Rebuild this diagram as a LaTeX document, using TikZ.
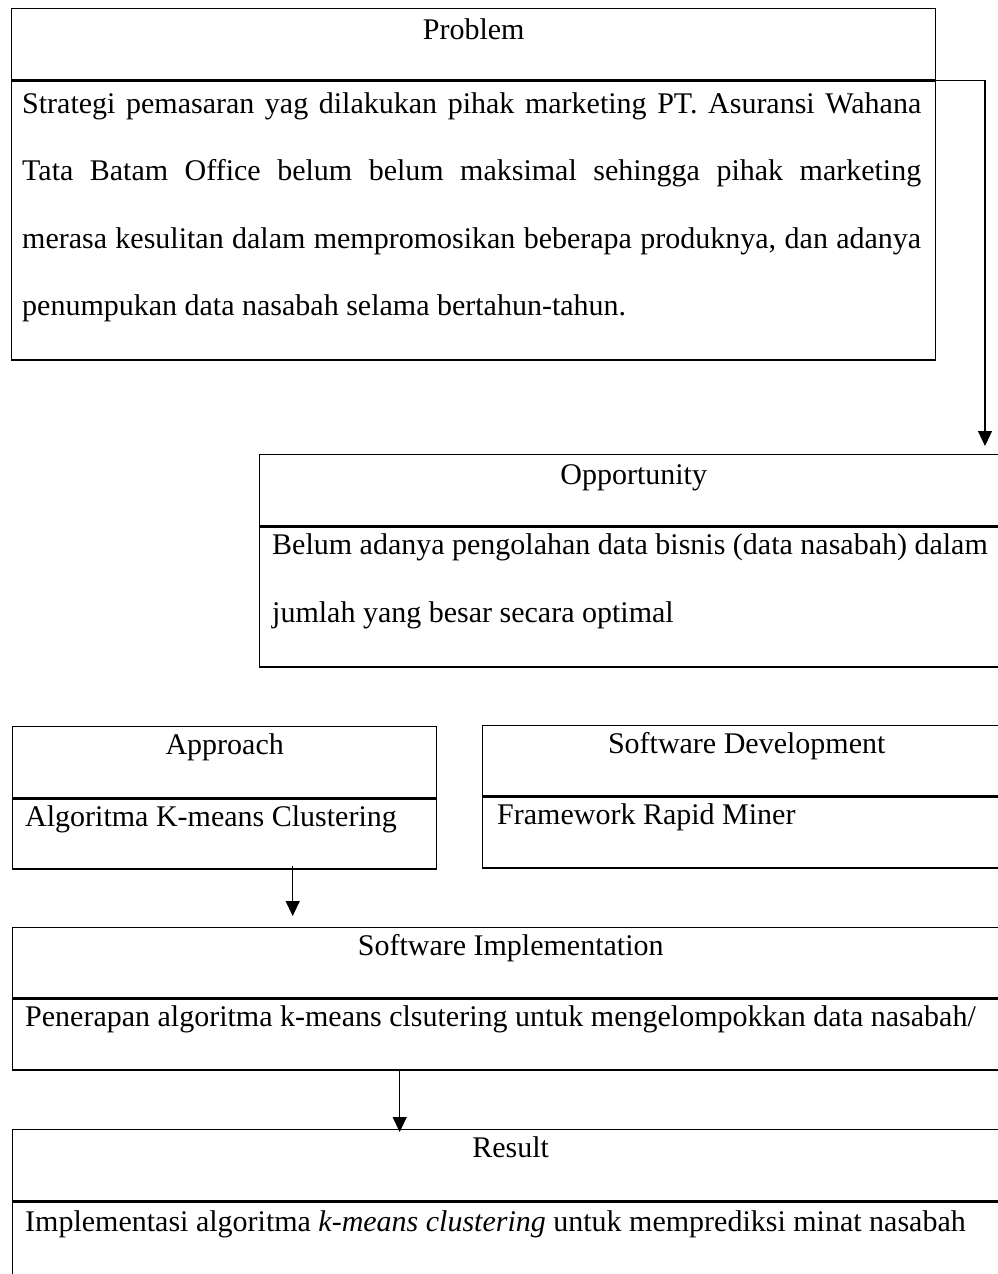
\documentclass[tikz,border=0pt]{standalone}
\usepackage{fontspec}
\setmainfont{Liberation Serif}
\usetikzlibrary{arrows.meta}
\tikzset{
  cell/.style     = {shape=rectangle, draw, line width=1.4pt,
                     inner sep=0pt, anchor=north west},
  title/.style    = {inner sep=0pt, anchor=base,
                     font=\fontsize{30}{67}\selectfont},
  bodytext/.style = {inner sep=0pt, anchor=base west, align=left,
                     font=\fontsize{30}{68}\selectfont},
  flow/.style     = {draw, line width=1.2pt,
                     -{Triangle[width=14pt,length=15pt]}}
}
\begin{document}
\begin{tikzpicture}[x=1pt, y=-1pt]
  \useasboundingbox (0,0) rectangle (998,1274);
  \clip (0,0) rectangle (998,1274);

  % problem
  \node[cell, minimum width=924pt, minimum height=71pt] (probhead) at (11,8) {};
  \node[cell, minimum width=924pt, minimum height=279pt] (probbody) at (probhead.south west) {};
  \node[title] (probtitle) at ([yshift=-31pt]probhead.north) {Problem};
  \node[bodytext, text width=899pt, align=justify, font=\fontsize{30}{67.3}\selectfont]
    (probtext) at ([xshift=11pt,yshift=-33pt]probbody.north west)
    {Strategi pemasaran yag dilakukan pihak marketing PT. Asuransi Wahana\linebreak
     Tata Batam Office belum belum maksimal sehingga pihak marketing\linebreak
     merasa kesulitan dalam mempromosikan beberapa produknya, dan adanya\linebreak
     penumpukan data nasabah selama bertahun-tahun.};

  % opportunity (base = last line)
  \node[cell, minimum width=748pt, minimum height=71pt] (opphead) at (259,454) {};
  \node[cell, minimum width=748pt, minimum height=140pt] (oppbody) at (opphead.south west) {};
  \node[title] (opptitle) at ([yshift=-30pt]opphead.north) {Opportunity};
  \node[bodytext] (opptext) at ([xshift=13pt,yshift=-96pt]oppbody.north west)
    {Belum adanya pengolahan data bisnis (data nasabah) dalam\\
     jumlah yang besar secara optimal};

  % approach
  \node[cell, minimum width=424pt, minimum height=71pt] (apphead) at (12,726) {};
  \node[cell, minimum width=424pt, minimum height=70pt] (appbody) at (apphead.south west) {};
  \node[title] (apptitle) at ([yshift=-28pt]apphead.north) {Approach};
  \node[bodytext] (apptext) at ([xshift=13pt,yshift=-28pt]appbody.north west)
    {Algoritma K-means Clustering};

  % software development
  \node[cell, minimum width=528pt, minimum height=70pt] (devhead) at (482,725) {};
  \node[cell, minimum width=528pt, minimum height=71pt] (devbody) at (devhead.south west) {};
  \node[title] (devtitle) at ([yshift=-28pt]devhead.north) {Software Development};
  \node[bodytext] (devtext) at ([xshift=15pt,yshift=-28pt]devbody.north west)
    {Framework Rapid Miner};

  % software implementation
  \node[cell, minimum width=996pt, minimum height=70pt] (implhead) at (12,927) {};
  \node[cell, minimum width=996pt, minimum height=71pt] (implbody) at (implhead.south west) {};
  \node[title] (impltitle) at ([yshift=-28pt]implhead.north) {Software Implementation};
  \node[bodytext] (impltext) at ([xshift=13pt,yshift=-28pt]implbody.north west)
    {Penerapan algoritma k-means clsutering untuk mengelompokkan data nasabah/};

  % result
  \node[cell, minimum width=996pt, minimum height=71pt] (reshead) at (12,1129) {};
  \node[cell, minimum width=996pt, minimum height=110pt] (resbody) at (reshead.south west) {};
  \node[title] (restitle) at ([yshift=-28pt]reshead.north) {Result};
  \node[bodytext] (restext) at ([xshift=13pt,yshift=-30pt]resbody.north west)
    {Implementasi algoritma \textit{k-means clustering} untuk memprediksi minat nasabah};

  % connectors
  \coordinate (bend) at (probhead.south east -| 985,0);
  \coordinate (appout) at ([xshift=68pt,yshift=4pt]appbody.south);
  \coordinate (implout) at ([xshift=-111pt]implbody.south);
  \draw[flow, shorten >=8pt] (probhead.south east) -- (bend) -- (bend |- opphead.north);
  \draw[flow, shorten >=11pt] (appout) -- (appout |- implhead.north);
  \draw[flow, shorten >=-3pt] (implout) -- (implout |- reshead.north);
\end{tikzpicture}
\end{document}
